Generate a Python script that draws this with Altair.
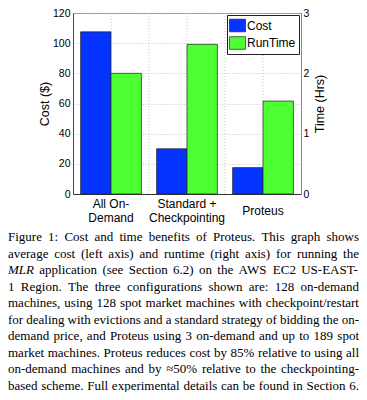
import altair as alt
import pandas as pd

# ---------------- data ----------------
categories = ["All On-|Demand", "Standard +|Checkpointing", "Proteus"]
series = ["Cost", "RunTime"]
cost_usd = [107.5, 30.0, 17.5]
runtime_hrs = [2.0, 2.48, 1.54]
cost_ticks = [0, 20, 40, 60, 80, 100, 120]
time_ticks = [0, 1, 2, 3]
grid_x = [1, 1.5, 2, 2.5, 3]

caption_lines = [
    "Figure 1: Cost and time benefits of Proteus. This graph shows",
    "average cost (left axis) and runtime (right axis) for running the",
    "MLR application (see Section 6.2) on the AWS EC2 US-EAST-",
    "1 Region. The three configurations shown are: 128 on-demand",
    "machines, using 128 spot market machines with checkpoint/restart",
    "for dealing with evictions and a standard strategy of bidding the on-",
    "demand price, and Proteus using 3 on-demand and up to 189 spot",
    "market machines. Proteus reduces cost by 85% relative to using all",
    "on-demand machines and by \u224850% relative to the checkpointing-",
    "based scheme. Full experimental details can be found in Section 6.",
]
italic_words = ["MLR"]

# ---------------- layout constants ----------------
W, H = 228, 181
FONT = "Liberation Sans"
SERIF = "Liberation Serif"
BLUE = "#0533ff"
GREEN = "#4dff33"
CAP_SIZE = 13
CAP_W = 351
CAP_LEFT = -65

# Times-like advance widths (1/1000 em) used to justify the caption lines
TIMES = {' ': 250, 'a': 444, 'b': 500, 'c': 444, 'd': 500, 'e': 444, 'f': 333, 'g': 500,
         'h': 500, 'i': 278, 'j': 278, 'k': 500, 'l': 278, 'm': 778, 'n': 500, 'o': 500,
         'p': 500, 'q': 500, 'r': 333, 's': 389, 't': 278, 'u': 500, 'v': 500, 'w': 722,
         'x': 500, 'y': 500, 'z': 444,
         'A': 722, 'B': 667, 'C': 667, 'D': 722, 'E': 611, 'F': 556, 'G': 722, 'H': 722,
         'I': 333, 'J': 389, 'K': 722, 'L': 611, 'M': 889, 'N': 722, 'O': 722, 'P': 556,
         'Q': 722, 'R': 667, 'S': 556, 'T': 611, 'U': 722, 'V': 722, 'W': 944, 'X': 722,
         'Y': 722, 'Z': 611, '.': 250, ',': 250, ':': 278, ';': 278, '-': 333, '(': 333,
         ')': 333, '/': 278, '%': 833, '+': 564, '\u2248': 549}
TIMES_IT = {'M': 833, 'L': 556, 'R': 611}


def word_width(w, italic):
    tot = 0
    for ch in w:
        if italic and ch in TIMES_IT:
            tot += TIMES_IT[ch]
        elif ch.isdigit():
            tot += 500
        else:
            tot += TIMES.get(ch, 500)
    return tot * CAP_SIZE / 1000.0


rows = []
for li, line in enumerate(caption_lines):
    words = line.split()
    ital = [w in italic_words for w in words]
    widths = [word_width(w, it) for w, it in zip(words, ital)]
    gap = (CAP_W - sum(widths)) / (len(words) - 1)
    xpos = 0.0
    for w, wd, it in zip(words, widths, ital):
        rows.append({"line": li, "wx": xpos, "word": w, "italic": it})
        xpos += wd + gap
cap_df = pd.DataFrame(rows)

# category label lines (centred block of lines under each group)
lab_rows = []
for c in categories:
    parts = c.split("|")
    n = len(parts)
    for k, p in enumerate(parts):
        lab_rows.append({"category": c, "text": p, "ly": k - (n - 1) / 2})
lab_df = pd.DataFrame(lab_rows)

cost_df = pd.DataFrame({"category": categories, "series": "Cost", "value": cost_usd})
time_df = pd.DataFrame({"category": categories, "series": "RunTime", "value": runtime_hrs})
grid_df = pd.DataFrame({"g": grid_x})

# ---------------- encodings ----------------
x_enc = alt.X(
    "category:N", sort=categories,
    scale=alt.Scale(domain=categories, paddingInner=0, paddingOuter=0),
    axis=alt.Axis(title=None, labels=False, ticks=False, tickSize=0, domainColor="#333"),
)
xo_enc = alt.XOffset("series:N", sort=series,
                     scale=alt.Scale(domain=series, paddingInner=0, paddingOuter=0.25))
color_enc = alt.Color(
    "series:N", sort=series,
    scale=alt.Scale(domain=series, range=[BLUE, GREEN]),
    legend=alt.Legend(title=None, orient="none", legendX=154, legendY=2,
                      padding=3, strokeColor="#222", fillColor="white",
                      symbolType="M-1.15,-0.9H1.15V0.9H-1.15Z", symbolSize=196,
                      symbolStrokeColor="#222", symbolStrokeWidth=0.7,
                      symbolOpacity=1, labelFont=FONT, labelFontSize=12,
                      labelColor="#000", labelOffset=2, rowPadding=0.5),
)

bar_style = dict(stroke="#222", strokeWidth=0.7, opacity=1)

cost_bars = alt.Chart(cost_df).mark_bar(**bar_style).encode(
    x=x_enc, xOffset=xo_enc, color=color_enc,
    y=alt.Y("value:Q", scale=alt.Scale(domain=[0, 120], nice=False, zero=True),
            axis=alt.Axis(orient="left", values=cost_ticks, title="Cost ($)",
                          grid=True, gridDash=[1, 2], gridColor="#c4c4c4",
                          ticks=False, tickSize=0, domainColor="#444",
                          labelFont=FONT, labelFontSize=10.5, labelColor="#000",
                          labelPadding=3, titleFont=FONT, titleFontSize=12.5,
                          titleFontWeight="normal", titleColor="#000",
                          titlePadding=0.5)),
)

time_bars = alt.Chart(time_df).mark_bar(**bar_style).encode(
    x=x_enc, xOffset=xo_enc, color=color_enc,
    y=alt.Y("value:Q", scale=alt.Scale(domain=[0, 3], nice=False, zero=True),
            axis=alt.Axis(orient="right", values=time_ticks, title="Time (Hrs)",
                          grid=False, ticks=False, tickSize=0, domainColor="#888",
                          labelFont=FONT, labelFontSize=10.5, labelColor="#000",
                          labelPadding=2, titleFont=FONT, titleFontSize=12.5,
                          titleFontWeight="normal", titleColor="#000",
                          titleAngle=270, titleBaseline="top", titlePadding=5)),
)

cat_labels = alt.Chart(lab_df).mark_text(
    align="center", baseline="middle", font=FONT, fontSize=12, color="#000"
).encode(
    x=alt.X("category:N", sort=categories),
    y=alt.Y("ly:Q", scale=alt.Scale(domain=[-0.5, 0.5], range=[191, 205], nice=False,
                                    zero=False), axis=None),
    text="text:N",
)

bars = alt.layer(cost_bars, time_bars, cat_labels).resolve_scale(y="independent")

grid = alt.Chart(grid_df).mark_rule(color="#c4c4c4", strokeDash=[1, 2], strokeWidth=1).encode(
    x=alt.X("g:Q", scale=alt.Scale(domain=[0.5, 3.5], nice=False, zero=False), axis=None)
)

cap_x = alt.X("wx:Q", scale=alt.Scale(domain=[0, CAP_W], range=[CAP_LEFT, CAP_LEFT + CAP_W],
                                      nice=False, zero=False), axis=None)
cap_y = alt.Y("line:Q", scale=alt.Scale(domain=[0, 9], range=[228, 377], nice=False, zero=False),
              axis=None)

cap_normal = alt.Chart(cap_df).transform_filter("!datum.italic").mark_text(
    align="left", baseline="alphabetic", font=SERIF, fontSize=CAP_SIZE, color="#000"
).encode(x=cap_x, y=cap_y, text="word:N")

cap_italic = alt.Chart(cap_df).transform_filter("datum.italic").mark_text(
    align="left", baseline="alphabetic", font=SERIF, fontSize=CAP_SIZE, color="#000",
    fontStyle="italic"
).encode(x=cap_x, y=cap_y, text="word:N")

chart = alt.layer(grid, bars, cap_normal, cap_italic).resolve_scale(
    x="independent", y="independent"
).properties(
    width=W, height=H, autosize=alt.AutoSizeParams(type="none"),
    padding={"left": 65, "top": 5, "right": 58, "bottom": 198},
    background="white",
).configure_view(stroke="#888", strokeWidth=1)

chart.save("out.html", embed_options={"renderer": "svg", "actions": False})
